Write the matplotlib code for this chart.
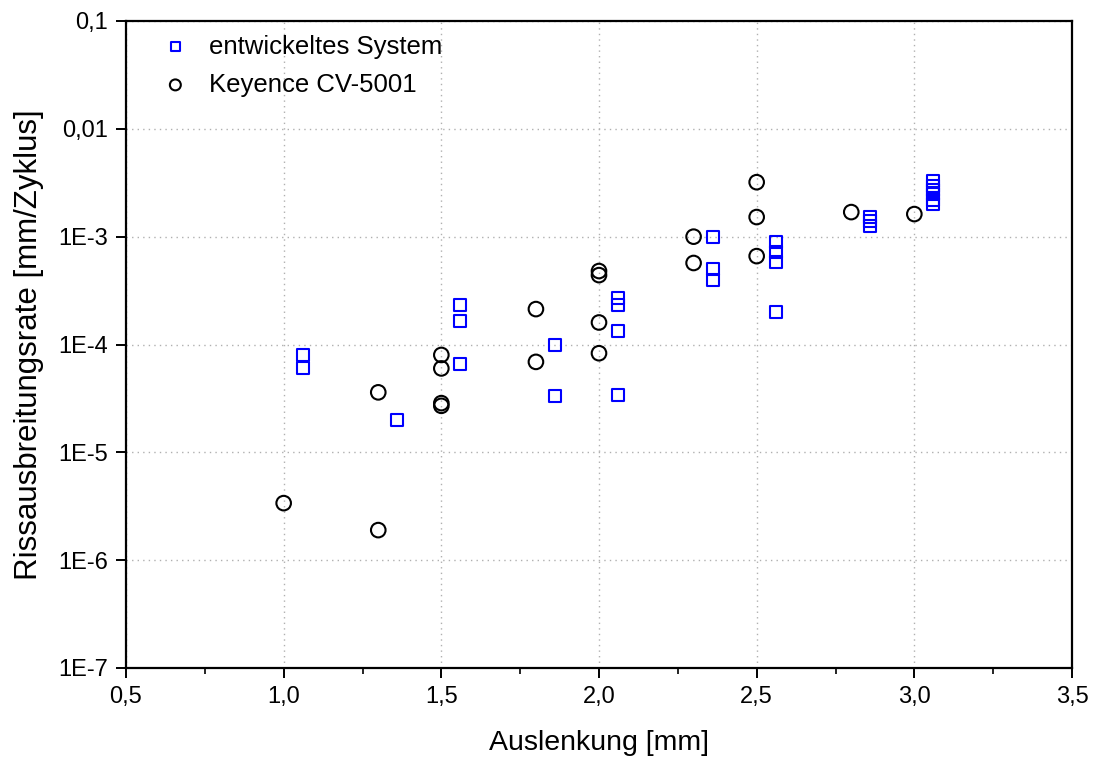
import matplotlib
matplotlib.use("Agg")
import matplotlib.pyplot as plt
from matplotlib.ticker import FixedLocator, FixedFormatter, MultipleLocator, NullLocator

plt.rcParams['font.family'] = ['Liberation Sans', 'DejaVu Sans']

# entwickeltes System
sys_x = [1.06, 1.06, 1.36, 1.56, 1.56, 1.56, 1.86, 1.86,
         2.06, 2.06, 2.06, 2.06, 2.36, 2.36, 2.36,
         2.56, 2.56, 2.56, 2.56, 2.86, 2.86, 2.86,
         3.06, 3.06, 3.06, 3.06, 3.06, 3.06]
sys_y = [8.0e-5, 6.0e-5, 2.0e-5, 2.32e-4, 1.65e-4, 6.6e-5, 9.9e-5, 3.3e-5,
         2.69e-4, 2.32e-4, 1.33e-4, 3.4e-5, 1.0e-3, 5.0e-4, 4.0e-4,
         8.9e-4, 7.2e-4, 5.8e-4, 2.0e-4, 1.52e-3, 1.4e-3, 1.25e-3,
         3.3e-3, 2.95e-3, 2.7e-3, 2.5e-3, 2.2e-3, 2.0e-3]

# Keyence CV-5001
key_x = [1.0, 1.3, 1.3, 1.5, 1.5, 1.5, 1.5, 1.8, 1.8,
         2.0, 2.0, 2.0, 2.0, 2.3, 2.3, 2.5, 2.5, 2.5, 2.8, 3.0]
key_y = [3.38e-6, 3.6e-5, 1.9e-6, 8.0e-5, 6.0e-5, 2.86e-5, 2.7e-5, 2.13e-4, 6.9e-5,
         4.8e-4, 4.4e-4, 1.6e-4, 8.3e-5, 1.0e-3, 5.7e-4, 3.2e-3, 1.52e-3, 6.6e-4,
         1.69e-3, 1.62e-3]

y_ticks = [1e-7, 1e-6, 1e-5, 1e-4, 1e-3, 1e-2, 1e-1]
y_labels = ['1E-7', '1E-6', '1E-5', '1E-4', '1E-3', '0,01', '0,1']
x_ticks = [0.5, 1.0, 1.5, 2.0, 2.5, 3.0, 3.5]
x_labels = ['0,5', '1,0', '1,5', '2,0', '2,5', '3,0', '3,5']

fig = plt.figure(figsize=(10.93, 7.6), dpi=100)
ax = fig.add_axes([126 / 1093, 1 - 668 / 760, (1072 - 126) / 1093, (668 - 21) / 760])

ax.scatter(sys_x, sys_y, marker='s', s=75, facecolors='none', edgecolors='#0000ff',
           linewidths=1.5, label='entwickeltes System', zorder=3)
ax.scatter(key_x, key_y, marker='o', s=110, facecolors='none', edgecolors='black',
           linewidths=1.5, label='Keyence CV-5001', zorder=3)

ax.set_yscale('log')
ax.set_ylim(1e-7, 1e-1)
ax.set_xlim(0.5, 3.5)

ax.yaxis.set_major_locator(FixedLocator(y_ticks))
ax.yaxis.set_major_formatter(FixedFormatter(y_labels))
ax.yaxis.set_minor_locator(NullLocator())
ax.xaxis.set_major_locator(FixedLocator(x_ticks))
ax.xaxis.set_major_formatter(FixedFormatter(x_labels))
ax.xaxis.set_minor_locator(MultipleLocator(0.25))

ax.grid(True, which='major', color='#b0b0b0', linestyle=(0, (1, 3)), linewidth=1.0)
ax.set_axisbelow(True)

for sp in ax.spines.values():
    sp.set_linewidth(1.6)

ax.tick_params(axis='both', which='major', direction='out', length=7, width=1.4,
               labelsize=17, pad=6)
ax.tick_params(axis='x', which='major', pad=6)
ax.tick_params(axis='x', which='minor', direction='out', length=4, width=1.2)

ax.set_xlabel('Auslenkung [mm]', fontsize=20.5, labelpad=16)
ax.set_ylabel('Rissausbreitungsrate [mm/Zyklus]', fontsize=22.5, labelpad=10)

ax.legend(loc='upper left', frameon=False, fontsize=18.5, scatterpoints=1,
          markerscale=0.75, handletextpad=0.7, labelspacing=0.55,
          handlelength=1.2, borderaxespad=0.0,
          bbox_to_anchor=(0.025, 0.995))

fig.savefig('out.png', dpi=100)
